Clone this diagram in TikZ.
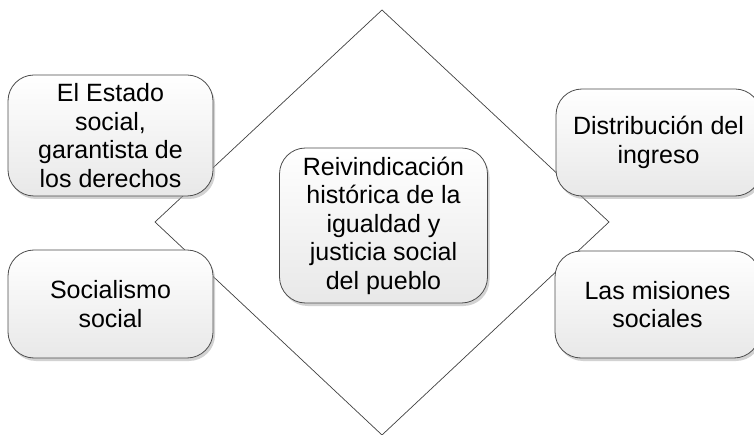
\documentclass[tikz,border=0pt]{standalone}
\usepackage{fontspec}
\setmainfont{Liberation Sans}
\usetikzlibrary{shadows}

\begin{document}
\begin{tikzpicture}[x=1pt,y=-1pt,
  card/.style={draw=black!70,line width=0.8pt,rounded corners=26pt,align=center,
               top color=white,bottom color=black!9,
               drop shadow={shadow xshift=2pt,shadow yshift=-3pt,fill=black!35,opacity=0.5},
               font=\fontsize{25}{28.5}\selectfont,minimum width=205pt,inner sep=0pt},
  rim/.style={draw=black!75,line width=0.7pt}]
\useasboundingbox (0,0) rectangle (754,435);
% diamond behind the cards
\coordinate (dtop) at (382,10);
\coordinate (dright) at (609,222);
\coordinate (dbot) at (382,435);
\coordinate (dleft) at (155,222);
\draw[rim] (dtop) -- (dright) -- (dbot) -- (dleft) -- cycle;
\node[card,minimum height=121pt] (estado) at (110.5,135.5) {El Estado\\social,\\garantista de\\los derechos};
\node[card,minimum height=108pt] (socialismo) at (110.5,304) {Socialismo\\social};
\node[card,minimum width=208pt,minimum height=155pt] (reivindica) at (383.5,225.5) {Reivindicación\\histórica de la\\igualdad y\\justicia social\\del pueblo};
\node[card,minimum height=107pt] (distribucion) at (658.5,142.5) {Distribución del\\ingreso};
\node[card,minimum height=107pt] (misiones) at (657.5,304.5) {Las misiones\\sociales};
\end{tikzpicture}
\end{document}
